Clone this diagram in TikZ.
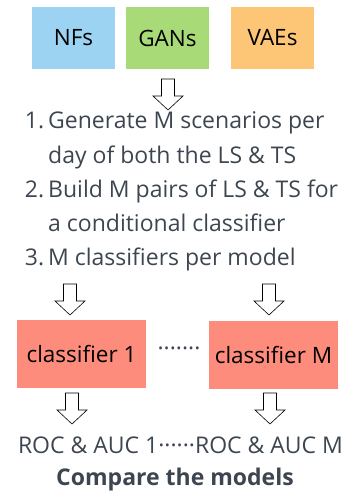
\documentclass[tikz,border=0pt]{standalone}
\usepackage{fontspec}
\setmainfont{Open Sans}
\definecolor{nfblue}{HTML}{9DD3F2}
\definecolor{gangreen}{HTML}{A8DB78}
\definecolor{vaeorange}{HTML}{FDC576}
\definecolor{clsred}{HTML}{FE8C7C}
\definecolor{txtgray}{HTML}{3D4650}
\tikzset{
  modelbox/.style={minimum width=83pt, minimum height=62pt, inner sep=0pt, font=\fontsize{22.5}{27}\selectfont, text=black},
  clsbox/.style={minimum width=129pt, minimum height=68pt, inner sep=0pt, fill=clsred, font=\fontsize{22.5}{27}\selectfont, text=black},
  listline/.style={anchor=base west, inner sep=0pt, font=\fontsize{23}{27}\selectfont, text=txtgray},
  plain/.style={inner sep=0pt, font=\fontsize{23}{27}\selectfont, text=txtgray},
  barrow/.pic={\draw[fill=white, line width=0.6pt] (-6.5,0) -- (6.5,0) -- (6.5,17) -- (15,17) -- (0,31) -- (-15,17) -- (-6.5,17) -- cycle;}
}
\newcommand{\itemnum}[1]{\makebox[23pt][r]{#1\hspace{4pt}}}
\begin{document}
\begin{tikzpicture}[x=1pt, y=-1pt]
\useasboundingbox (0,0) rectangle (347,497);
\node[modelbox, fill=nfblue] (nf) at (73.5,38) {NFs};
\node[modelbox, fill=gangreen] (gan) at (167.5,38) {GANs};
\node[modelbox, fill=vaeorange] (vae) at (272.5,38) {VAEs};
\pic at (168,79) {barrow};
\node[listline] (l1) at (25,129) {\itemnum{1.}Generate M scenarios per};
\node[listline] (l2) at (25,163) {\itemnum{}day of both the LS \& TS};
\node[listline] (l3) at (25,197) {\itemnum{2.}Build M pairs of LS \& TS for};
\node[listline] (l4) at (25,231) {\itemnum{}a conditional classifier};
\node[listline] (l5) at (25,265) {\itemnum{3.}M classifiers per model};
\pic at (70,284) {barrow};
\pic at (269,284) {barrow};
\node[clsbox] (c1) at (81.5,354) {classifier 1};
\node[clsbox] (cm) at (273.5,355) {classifier M};
\node[plain] (dots) at (179,352) {·······};
\pic at (72,393) {barrow};
\pic at (270,393) {barrow};
\node[plain] (roc) at (180.5,445) {ROC \& AUC 1······ROC \& AUC M};
\node[plain, font=\fontsize{23}{27}\selectfont\bfseries] (cmp) at (175,480) {Compare the models};
\end{tikzpicture}
\end{document}
